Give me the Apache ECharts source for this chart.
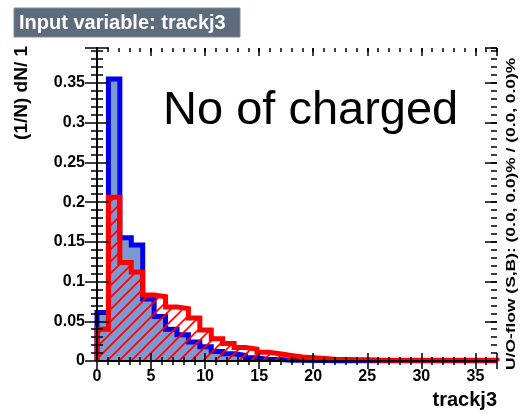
<!DOCTYPE html>
<html><head><meta charset="utf-8">
<script src="https://cdn.jsdelivr.net/npm/echarts@6/dist/echarts.min.js"></script>
<style>html,body{margin:0;padding:0;background:#fff}#c{width:522px;height:414px}</style>
</head><body><div id="c"></div>
<script>
// ---- data ----
const XMIN = 0, XMAX = 37, NBINS = 35;
const signal = [0.061, 0.355, 0.155, 0.146, 0.078, 0.056, 0.040, 0.033, 0.024, 0.018,
                0.012, 0.009, 0.007, 0.004, 0.002, 0.002, 0.001, 0.001, 0.0006, 0.0005,
                0, 0, 0, 0, 0, 0, 0, 0, 0, 0, 0, 0, 0, 0, 0];
const background = [0.040, 0.206, 0.124, 0.112, 0.083, 0.081, 0.068, 0.066, 0.054, 0.039,
                    0.028, 0.022, 0.017, 0.015, 0.011, 0.009, 0.007, 0.005, 0.004, 0.003,
                    0.002, 0.002, 0.0015, 0.0015, 0.001, 0.001, 0.001, 0.001, 0.001, 0.001,
                    0.001, 0.001, 0.001, 0.001, 0.001];
const xTickLabels = [0, 5, 10, 15, 20, 25, 30, 35];
const yTickLabels = [0, 0.05, 0.1, 0.15, 0.2, 0.25, 0.3, 0.35];
const YMAX = 0.394;
const titleText = 'Input variable: trackj3';
const yTitle = '(1/N) dN/ 1';
const xTitle = 'trackj3';
const noteText = 'No of charged';
const flowText = 'U/O-flow (S,B): (0.0, 0.0)% / (0.0, 0.0)%';

// ---- helpers ----
const FONT = '"Liberation Sans", Arial, Helvetica, sans-serif';
function histPoints(vals) {
  const w = (XMAX - XMIN) / NBINS;
  const pts = [[XMIN, 0]];
  vals.forEach((v, k) => pts.push([XMIN + k * w, v]));
  pts.push([XMAX, vals[vals.length - 1]]);
  pts.push([XMAX, 0]);
  return pts;
}
function isTick(v, list) { return list.some(t => Math.abs(t - v) < 1e-9); }

const hc = document.createElement('canvas');
hc.width = 12; hc.height = 12;
const g = hc.getContext('2d');
g.strokeStyle = '#ff0000'; g.lineWidth = 1.6;
g.beginPath();
g.moveTo(0, 12); g.lineTo(12, 0);
g.moveTo(-2, 2); g.lineTo(2, -2);
g.moveTo(10, 14); g.lineTo(14, 10);
g.stroke();

function xAx(grid, pos, interval, len, labels) {
  return {
    type: 'value', gridIndex: grid, position: pos, min: XMIN, max: XMAX, interval: interval, z: 10,
    axisLine: { show: true, lineStyle: { color: '#000', width: 2 } },
    axisTick: { show: true, inside: true, length: len, lineStyle: { color: '#000', width: 1.5 } },
    axisLabel: labels ? {
      show: true, margin: 8, color: '#000', fontWeight: 'bold', fontSize: 16, fontFamily: FONT,
      formatter: v => isTick(v, xTickLabels) ? String(Math.round(v)) : ''
    } : { show: false },
    splitLine: { show: false }
  };
}
function yAx(grid, pos, interval, len, labels) {
  return {
    type: 'value', gridIndex: grid, position: pos, min: 0, max: YMAX, interval: interval, z: 10,
    axisLine: { show: true, lineStyle: { color: '#000', width: 2 } },
    axisTick: { show: true, inside: true, length: len, lineStyle: { color: '#000', width: 1.5 } },
    axisLabel: labels ? {
      show: true, margin: 12, color: '#000', fontWeight: 'bold', fontSize: 16, fontFamily: FONT,
      formatter: v => isTick(v, yTickLabels) ? String(parseFloat(v.toFixed(2))) : ''
    } : { show: false },
    splitLine: { show: false }
  };
}
// tick strips along the top and right edges: split lines of thin grids act as inward ticks
function stripAxis(grid, dim, interval) {
  const isX = dim === 'x';
  return {
    type: 'value', gridIndex: grid, z: 10,
    min: isX ? XMIN : 0, max: isX ? XMAX : YMAX, interval: interval,
    axisLine: { show: false }, axisTick: { show: false }, axisLabel: { show: false },
    splitLine: { show: true, lineStyle: { color: '#000', width: 1.5, type: 'solid' } }
  };
}
function hiddenAxis(grid) {
  return { type: 'value', gridIndex: grid, min: 0, max: 1, show: false };
}

const gridRect = { left: 97, right: 25, top: 48, bottom: 53, containLabel: false };
const chart = echarts.init(document.getElementById('c'), null, { renderer: 'canvas' });
chart.setOption({
  animation: false,
  backgroundColor: '#fff',
  grid: [
    Object.assign({}, gridRect),
    Object.assign({}, gridRect),
    { left: 97, right: 25, top: 48, height: 8, containLabel: false },
    { left: 97, right: 25, top: 48, height: 4, containLabel: false },
    { left: 485, right: 25, top: 48, bottom: 53, containLabel: false },
    { left: 491, right: 25, top: 48, bottom: 53, containLabel: false }
  ],
  xAxis: [
    xAx(0, 'bottom', 5, 8, true),
    xAx(0, 'top', 5, 8, false),
    xAx(1, 'bottom', 1, 4, false),
    xAx(1, 'top', 1, 4, false),
    stripAxis(2, 'x', 5),
    stripAxis(3, 'x', 1),
    hiddenAxis(4),
    hiddenAxis(5)
  ],
  yAxis: [
    yAx(0, 'left', 0.05, 12, true),
    yAx(0, 'right', 0.05, 12, false),
    yAx(1, 'left', 0.01, 6, false),
    yAx(1, 'right', 0.01, 6, false),
    hiddenAxis(2),
    hiddenAxis(3),
    stripAxis(4, 'y', 0.05),
    stripAxis(5, 'y', 0.01)
  ],
  series: [
    {
      type: 'line', xAxisIndex: 0, yAxisIndex: 0, step: 'end', data: histPoints(signal),
      showSymbol: false, symbol: 'none', silent: true, z: 2,
      lineStyle: { color: '#0000ee', width: 5, join: 'miter' },
      areaStyle: { color: '#7d99d1', opacity: 1 }
    },
    {
      type: 'line', xAxisIndex: 0, yAxisIndex: 0, step: 'end', data: histPoints(background),
      showSymbol: false, symbol: 'none', silent: true, z: 3,
      lineStyle: { color: '#ff0000', width: 5, join: 'miter' },
      areaStyle: { color: { image: hc, repeat: 'repeat' }, opacity: 1 }
    }
  ],
  graphic: [
    { type: 'rect', shape: { x: 14, y: 8, width: 226, height: 29 },
      style: { fill: '#5d6b7d', stroke: '#7d8b9d', lineWidth: 1 } },
    { type: 'text', x: 19, y: 23,
      style: { text: titleText, fill: '#fff', font: 'bold 20px ' + FONT, align: 'left', verticalAlign: 'middle', textAlign: 'left', textVerticalAlign: 'middle' } },
    { type: 'text', x: 163, y: 111, z: 10,
      style: { text: noteText, fill: '#000', font: '47px ' + FONT, align: 'left', verticalAlign: 'middle', textAlign: 'left', textVerticalAlign: 'middle' } },
    { type: 'text', x: 22, y: 46, rotation: Math.PI / 2,
      style: { text: yTitle, fill: '#000', font: 'bold 19px ' + FONT, align: 'right', verticalAlign: 'middle', textAlign: 'right', textVerticalAlign: 'middle' } },
    { type: 'text', x: 497, y: 400,
      style: { text: xTitle, fill: '#000', font: 'bold 20px ' + FONT, align: 'right', verticalAlign: 'middle', textAlign: 'right', textVerticalAlign: 'middle' } },
    { type: 'text', x: 512, y: 370, rotation: Math.PI / 2, scaleX: 1.45, scaleY: 1,
      style: { text: flowText, fill: '#000', font: 'bold 12px ' + FONT, align: 'left', verticalAlign: 'middle', textAlign: 'left', textVerticalAlign: 'middle' } }
  ]
});
</script>
</body></html>
